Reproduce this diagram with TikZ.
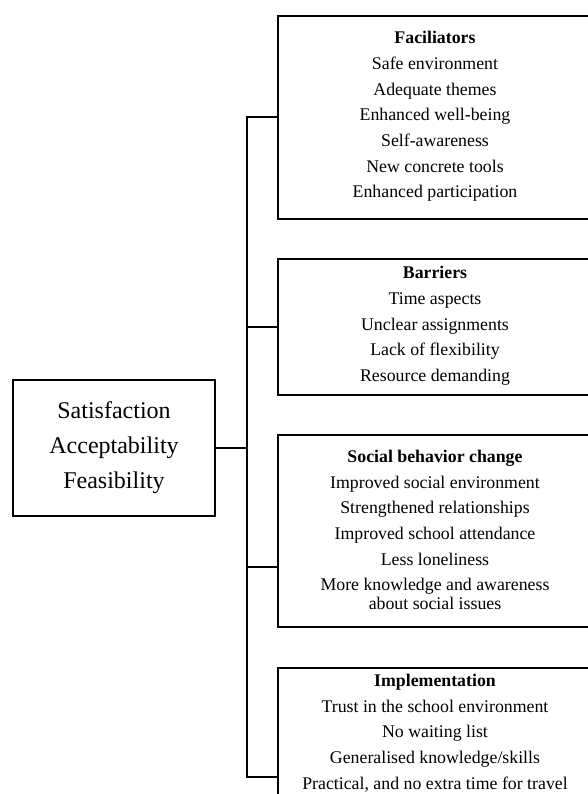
\documentclass[tikz,border=0pt]{standalone}
\usepackage{fontspec}
\setmainfont{Liberation Serif}
\usetikzlibrary{calc}
\newcommand{\lineColor}{black}
\newcommand{\itemFont}{\fontsize{17.8}{25.7}\selectfont}
\newcommand{\rootFont}{\fontsize{24}{35}\selectfont}
\tikzset{rootBox/.style = {draw=\lineColor, line width=2.4pt, align=center, font=\rootFont, minimum width=202pt, minimum height=136pt, inner sep=0pt}}
\tikzset{themeBox/.style = {draw=\lineColor, line width=2.4pt, anchor=north west, minimum width=340pt, inner sep=0pt}}
\tikzset{themeText/.style = {align=center, font=\itemFont, inner sep=0pt}}
\tikzset{link/.style = {\lineColor, line width=1.6pt}}

\begin{document}
\begin{tikzpicture}[x=1pt, y=-1pt]
    \useasboundingbox (0,0) rectangle (587,794);

    \node[rootBox] (root) at (114,448) {Satisfaction\\Acceptability\\Feasibility};

    % frames, running off the right edge
    \node[themeBox, minimum height=203pt] (fac) at (277,15) {};
    \node[themeBox, minimum height=136pt] (bar) at (277,258) {};
    \node[themeBox, minimum height=192pt] (soc) at (277,434) {};
    \node[themeBox, minimum height=132pt] (imp) at (277,667) {};

    \node[themeText] (facText) at (435,116.5) {\textbf{Faciliators}\\
        Safe environment\\Adequate themes\\Enhanced well-being\\Self-awareness\\
        New concrete tools\\Enhanced participation};
    \node[themeText] (barText) at (435,326) {\textbf{Barriers}\\
        Time aspects\\Unclear assignments\\Lack of flexibility\\Resource demanding};
    \node[themeText] (socText) at (435,530) {\textbf{Social behavior change}\\
        Improved social environment\\Strengthened relationships\\Improved school attendance\\
        Less loneliness\\More knowledge and awareness\\[-7pt]about social issues};
    \node[themeText] (impText) at (435,733) {\textbf{Implementation}\\
        Trust in the school environment\\No waiting list\\Generalised knowledge/skills\\
        Practical, and no extra time for travel};

    % branch points on the trunk
    \foreach \n/\y in {fac/117, bar/327, soc/567, imp/777}
    {
        \coordinate (j\n) at (247,\y);
    }

    \draw[link] (jfac -| fac.west) -- (jfac) -- (jimp) -- (jimp -| imp.west);
    \foreach \n in {bar, soc}
    {
        \draw[link] (j\n) -- (j\n -| \n.west);
    }
    \draw[link] (root.east) -- (root.east -| jfac);
\end{tikzpicture}
\end{document}
